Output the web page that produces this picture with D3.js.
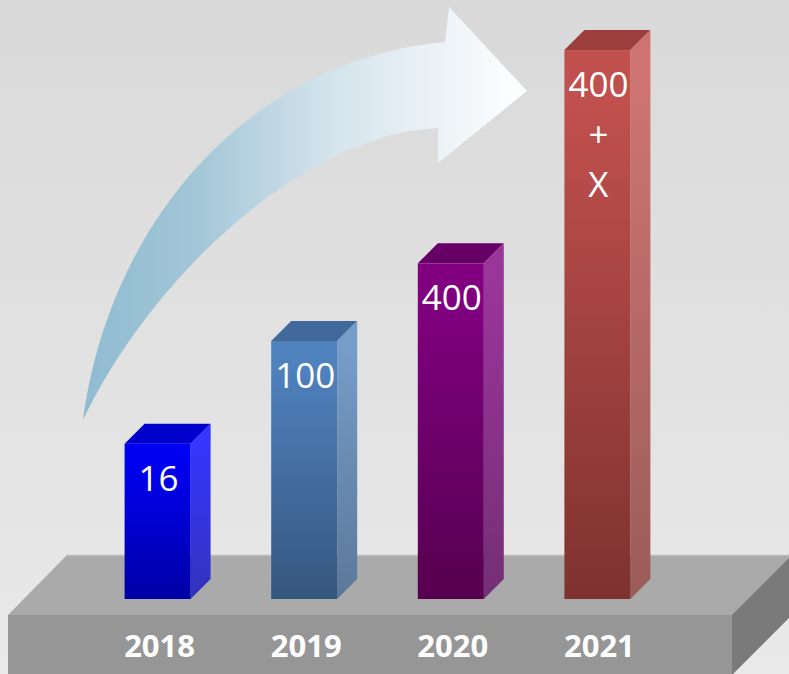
<!DOCTYPE html>
<html lang="en">
<head>
    <meta charset="UTF-8">
    <title>Growth Bars</title>
    <style>
        body { margin: 0; background: #e0e0e0; }
        svg { display: block; }
    </style>
</head>
<body>
<script src="https://d3js.org/d3.v7.min.js"></script>
<script>
    // data
    const years = ["2018", "2019", "2020", "2021"];
    const barValues = [16, 100, 400, 18000];          // bar heights follow a log scale
    const barLabels = [["16"], ["100"], ["400"], ["400", "+", "X"]];
    const frontTop = ["#0000f2", "#4f81bd", "#800080", "#c0504d"];
    const frontBottom = ["#0000a6", "#35567e", "#56004f", "#7e3230"];
    const sideTop = ["#3535ff", "#769cc8", "#9a359a", "#cd7472"];
    const sideBottom = ["#3333bb", "#5b7899", "#742f75", "#9a5c59"];
    const capColor = ["#0000cc", "#41699a", "#660066", "#9b3e3c"];

    const width = 789, height = 674;
    const base = 599;        // floor line of the bars
    const depth = 20;        // 3d offset of the bars
    const barW = 66;

    const svg = d3.select("body").append("svg")
        .attr("width", width)
        .attr("height", height);

    const defs = svg.append("defs");

    // background
    const bg = defs.append("linearGradient").attr("id", "bg")
        .attr("x1", 0).attr("y1", 0).attr("x2", 0).attr("y2", 1);
    bg.append("stop").attr("offset", 0).attr("stop-color", "#d9d9d9");
    bg.append("stop").attr("offset", 1).attr("stop-color", "#e9e9e9");
    svg.append("rect").attr("width", width).attr("height", height).attr("fill", "url(#bg)");

    // platform
    svg.append("polygon")
        .attr("points", "67,555 800,555 800,615 8,615")
        .attr("fill", "#aaaaaa");
    svg.append("line")
        .attr("x1", 67).attr("y1", 555.5).attr("x2", 800).attr("y2", 555.5)
        .attr("stroke", "#bdbdbd").attr("stroke-width", 1.5);
    svg.append("rect")
        .attr("x", 8).attr("y", 615).attr("width", 724).attr("height", 60)
        .attr("fill", "#969696");
    svg.append("polygon")
        .attr("points", "732,615 792,555 792,615 732,675")
        .attr("fill", "#7a7a7a");

    // curved arrow
    const ag = defs.append("linearGradient").attr("id", "arrowGrad")
        .attr("gradientUnits", "userSpaceOnUse")
        .attr("x1", 83).attr("y1", 0).attr("x2", 527).attr("y2", 0);
    ag.append("stop").attr("offset", 0).attr("stop-color", "#90bbd0");
    ag.append("stop").attr("offset", 0.25).attr("stop-color", "#a2c6d7");
    ag.append("stop").attr("offset", 0.55).attr("stop-color", "#d3e3ec");
    ag.append("stop").attr("offset", 1).attr("stop-color", "#ffffff");

    const ap = d3.path();
    ap.moveTo(83, 420);
    ap.bezierCurveTo(110, 220, 250, 60, 445, 42);
    ap.lineTo(449, 7);
    ap.lineTo(527, 91);
    ap.lineTo(438, 163);
    ap.lineTo(438, 128);
    ap.bezierCurveTo(300, 135, 150, 280, 83, 420);
    ap.closePath();
    svg.append("path").attr("d", ap.toString()).attr("fill", "url(#arrowGrad)");

    // scales
    const x = d3.scaleBand()
        .domain(years)
        .range([81, 674])
        .paddingInner(0.555)
        .paddingOuter(0.3);
    const y = d3.scaleLog()
        .domain([1, 1e5])
        .range([base, base - 5 * 129]);

    const bars = years.map((yr, i) => ({
        year: yr, value: barValues[i], label: barLabels[i], i: i
    }));

    bars.forEach(d => {
        const fg = defs.append("linearGradient").attr("id", "front" + d.i)
            .attr("x1", 0).attr("y1", 0).attr("x2", 0).attr("y2", 1);
        fg.append("stop").attr("offset", 0.1).attr("stop-color", frontTop[d.i]);
        fg.append("stop").attr("offset", 1).attr("stop-color", frontBottom[d.i]);
        const sg = defs.append("linearGradient").attr("id", "side" + d.i)
            .attr("x1", 0).attr("y1", 0).attr("x2", 0).attr("y2", 1);
        sg.append("stop").attr("offset", 0.1).attr("stop-color", sideTop[d.i]);
        sg.append("stop").attr("offset", 1).attr("stop-color", sideBottom[d.i]);
    });

    const g = svg.append("g");
    const bar = g.selectAll("g.bar").data(bars).enter().append("g").attr("class", "bar");

    const bx = d => x(d.year) + x.bandwidth() / 2 - barW / 2;

    // top cap
    bar.append("polygon")
        .attr("points", d => {
            const x0 = bx(d), t = y(d.value);
            return [[x0, t], [x0 + depth, t - depth], [x0 + barW + depth, t - depth], [x0 + barW, t]]
                .map(p => p.join(",")).join(" ");
        })
        .attr("fill", d => capColor[d.i]);

    // side face
    bar.append("polygon")
        .attr("points", d => {
            const x0 = bx(d) + barW, t = y(d.value);
            return [[x0, t], [x0 + depth, t - depth], [x0 + depth, base - depth], [x0, base]]
                .map(p => p.join(",")).join(" ");
        })
        .attr("fill", d => "url(#side" + d.i + ")");

    // front face
    bar.append("rect")
        .attr("x", d => bx(d))
        .attr("y", d => y(d.value))
        .attr("width", barW)
        .attr("height", d => base - y(d.value))
        .attr("fill", d => "url(#front" + d.i + ")");

    // value labels
    bar.each(function (d) {
        const t = d3.select(this).append("text")
            .attr("text-anchor", "middle")
            .attr("fill", "#ffffff")
            .style("font-family", "'Open Sans', sans-serif")
            .style("font-size", "35px");
        d.label.forEach((line, k) => {
            t.append("tspan")
                .attr("x", bx(d) + barW / 2 + 1)
                .attr("y", y(d.value) + 47 + k * 50)
                .text(line);
        });
    });

    // year labels on the platform front
    svg.selectAll("text.year").data(years).enter().append("text")
        .attr("class", "year")
        .attr("x", d => x(d) + x.bandwidth() / 2 + 2)
        .attr("y", 657)
        .attr("text-anchor", "middle")
        .attr("fill", "#ffffff")
        .style("font-family", "'Open Sans', sans-serif")
        .style("font-weight", "700")
        .style("font-size", "31px")
        .text(d => d);
</script>
</body>
</html>
